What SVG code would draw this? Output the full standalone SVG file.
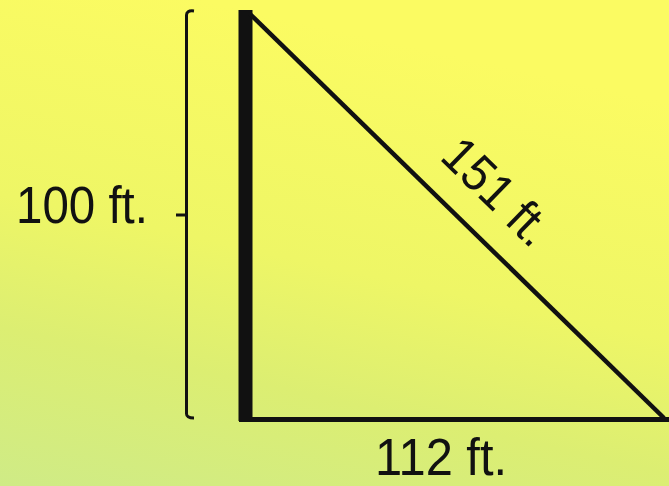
<svg xmlns="http://www.w3.org/2000/svg" width="669" height="486" viewBox="0 0 669 486">
  <defs>
    <linearGradient id="bg" x1="0.3" y1="0" x2="0" y2="1">
      <stop offset="0" stop-color="#fbfb62"/>
      <stop offset="0.45" stop-color="#eef666"/>
      <stop offset="0.7" stop-color="#dcee72"/>
      <stop offset="1" stop-color="#cfeb86"/>
    </linearGradient>
    <style>
      .lbl { font-family: "Liberation Sans", Arial, sans-serif; font-size: 51px; fill: #111; }
      .ln { stroke: #111; fill: none; }
    </style>
  </defs>
  <rect x="0" y="0" width="669" height="486" fill="url(#bg)"/>
  <g id="bracket">
    <path class="ln" d="M194,11 Q186,10 186.5,16 L186.5,413 Q186,418 194,418" stroke-width="3"/>
    <path class="ln" d="M176,215 L186,215" stroke-width="3"/>
  </g>
  <g id="connectors">
    <line class="ln" x1="245.5" y1="10" x2="245.5" y2="421" stroke-width="14"/>
    <line class="ln" x1="239" y1="419.5" x2="669" y2="419.5" stroke-width="5"/>
    <line class="ln" x1="250" y1="14" x2="664" y2="418" stroke-width="4.5"/>
  </g>
  <g id="label-height">
    <text class="lbl" x="16" y="223" textLength="132" lengthAdjust="spacingAndGlyphs">100 ft.</text>
  </g>
  <g id="label-base">
    <text class="lbl" x="375" y="475" textLength="132" lengthAdjust="spacingAndGlyphs">112 ft.</text>
  </g>
  <g id="label-hyp">
    <text class="lbl" text-anchor="middle" textLength="130" lengthAdjust="spacingAndGlyphs" transform="translate(485,204) rotate(44.4)">151 ft.</text>
  </g>
</svg>
